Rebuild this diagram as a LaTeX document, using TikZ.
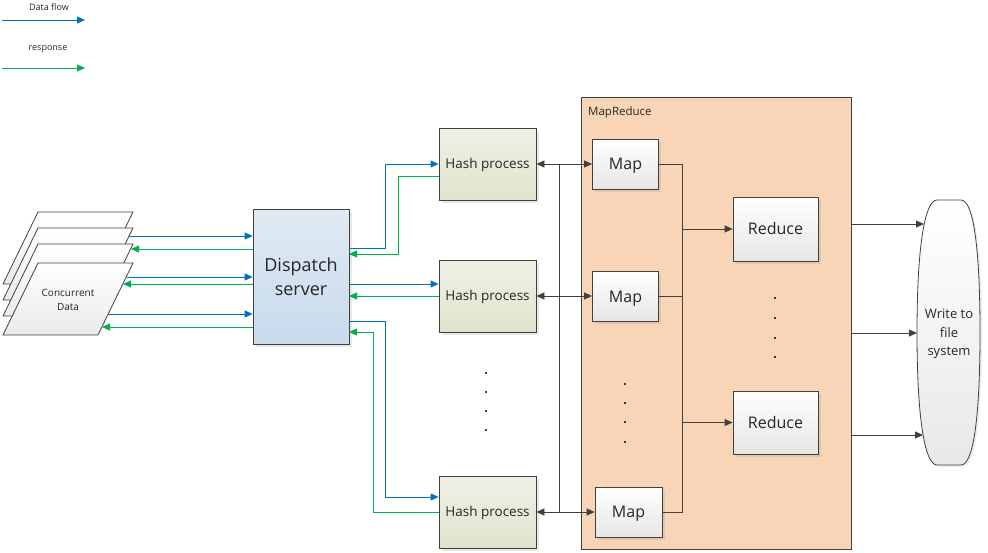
\documentclass[tikz,border=0pt]{standalone}
\usepackage{fontspec}
\setmainfont{Open Sans}
\usetikzlibrary{arrows.meta,shadows}
\definecolor{blueflow}{HTML}{0070C0}
\definecolor{greenresp}{HTML}{00B050}
\definecolor{edgec}{HTML}{404040}
\definecolor{txt}{HTML}{262626}
\definecolor{peach}{HTML}{F8D5B6}
\begin{document}
\begin{tikzpicture}[x=1pt,y=-1pt,
  tip/.style={-{Triangle[length=8pt,width=7pt]}},
  dtip/.style={{Triangle[length=8pt,width=7pt]}-{Triangle[length=8pt,width=7pt]}},
  bluearr/.style={tip, draw=blueflow, line width=0.9pt},
  greenarr/.style={tip, draw=greenresp, line width=0.9pt},
  grayarr/.style={tip, draw=edgec, line width=0.8pt},
  graydarr/.style={dtip, draw=edgec, line width=0.8pt},
  grayline/.style={draw=edgec, line width=0.8pt},
  boxbase/.style={draw=edgec, line width=0.8pt, inner sep=0pt, align=center, text=txt,
    drop shadow={opacity=0.18, shadow xshift=2.5pt, shadow yshift=-2.5pt}},
  dispbox/.style={boxbase, top color={rgb,255:red,224;green,234;blue,244}, bottom color={rgb,255:red,200;green,218;blue,236},
    font=\fontsize{18}{24}\selectfont},
  hashbox/.style={boxbase, top color={rgb,255:red,239;green,241;blue,230}, bottom color={rgb,255:red,222;green,228;blue,204},
    font=\fontsize{13.5}{16}\selectfont, text height=9.6pt, text depth=0pt},
  wbox/.style={boxbase, top color=white, bottom color={rgb,255:red,230;green,230;blue,230},
    font=\fontsize{16}{19}\selectfont, text height=11.4pt, text depth=0pt},
  sheet/.style={draw=edgec, line width=0.8pt, top color=white, bottom color={rgb,255:red,234;green,234;blue,234}},
  dot/.style={fill=black, circle, inner sep=0pt, minimum size=2.2pt},
  lbl/.style={font=\fontsize{9}{11}\selectfont, text=txt, inner sep=0pt}
]
\useasboundingbox (0,0) rectangle (988,552);

% legend
\node[lbl] (lgd1) at (49,7.5) {Data flow};
\coordinate (la1) at (2,20); \coordinate (lb1) at (85,20);
\draw[bluearr] (la1) -- (lb1);
\node[lbl] (lgd2) at (48,49.5) {response};
\coordinate (la2) at (2,68); \coordinate (lb2) at (85,68);
\draw[greenarr] (la2) -- (lb2);

% concurrent data sheets
\foreach \t in {212,228,244,263}{
  \path[sheet] (38,\t) -- (133,\t) -- (98,\t+72) -- (3,\t+72) -- cycle;
}
\node[align=center, text=txt, font=\fontsize{10}{14}\selectfont] (cd) at (68,300) {Concurrent\\Data};

% sheet edge coordinates
\coordinate (s1) at (129,236);
\coordinate (s2) at (131,249);
\coordinate (s3) at (127,277);
\coordinate (s4) at (123,284);
\coordinate (s5) at (108,314);
\coordinate (s6) at (102,327);

% MapReduce container
\node[draw=edgec, line width=0.8pt, fill=peach, minimum width=270pt, minimum height=452pt, inner sep=0pt] (mr) at (716,323) {};
\node[anchor=west, text=txt, font=\fontsize{11.5}{13}\selectfont, inner sep=0pt] (mrl) at (588,112.5) {MapReduce};

% dispatch
\node[dispbox, minimum width=96pt, minimum height=135pt] (ds) at (301,276.5) {Dispatch\\server};

% hash processes
\node[hashbox, minimum width=97pt, minimum height=72pt] (h1) at (487.5,164) {Hash process};
\node[hashbox, minimum width=97pt, minimum height=72pt] (h2) at (487.5,296) {Hash process};
\node[hashbox, minimum width=97pt, minimum height=72pt] (h3) at (487.5,512) {Hash process};

% maps and reduces
\node[wbox, minimum width=66pt, minimum height=50pt] (m1) at (625.5,164) {Map};
\node[wbox, minimum width=66pt, minimum height=50pt] (m2) at (625.5,296.5) {Map};
\node[wbox, minimum width=67pt, minimum height=50pt] (m3) at (628.5,512) {Map};
\node[wbox, minimum width=85pt, minimum height=64pt] (r1) at (775.5,229) {Reduce};
\node[wbox, minimum width=85pt, minimum height=63pt] (r2) at (775.5,422.5) {Reduce};

% write to file system
\path[draw=edgec, line width=0.8pt, top color=white, bottom color={rgb,255:red,232;green,232;blue,232},
  drop shadow={opacity=0.15, shadow xshift=2pt, shadow yshift=-2pt}]
  (937,200) -- (961,200) .. controls (973,200) and (980,245) .. (980,332.5)
  .. controls (980,420) and (973,465) .. (961,465) -- (937,465)
  .. controls (925,465) and (917,420) .. (917,332.5)
  .. controls (917,245) and (925,200) .. (937,200) -- cycle;
\node[align=center, text=txt, font=\fontsize{13}{18.5}\selectfont] (fs) at (949,334) {Write to\\file\\system};

% data <-> dispatch
\draw[bluearr] (s1) -- (s1 -| ds.west);
\draw[greenarr] (s2 -| ds.west) -- (s2);
\draw[bluearr] (s3) -- (s3 -| ds.west);
\draw[greenarr] (s4 -| ds.west) -- (s4);
\draw[bluearr] (s5) -- (s5 -| ds.west);
\draw[greenarr] (s6 -| ds.west) -- (s6);

% dispatch <-> hash
\coordinate (d1) at (349,248);
\coordinate (d2) at (349,254);
\coordinate (d3) at (349,284);
\coordinate (d4) at (349,296);
\coordinate (d5) at (349,321);
\coordinate (d6) at (349,332);
\draw[bluearr] (d1) -- (385,248) -- (385,164) -- (h1.west);
\draw[greenarr] (h1.west |- 0,176) -- (398,176) -- (398,254) -- (d2);
\draw[bluearr] (d3) -- (h2.west |- d3);
\draw[greenarr] (h2.west) -- (d4);
\draw[bluearr] (d5) -- (385,321) -- (385,497) -- (h3.west |- 0,497);
\draw[greenarr] (h3.west) -- (373,512) -- (373,332) -- (d6);

% hash <-> map
\draw[graydarr] (h1.east) -- (m1.west);
\draw[graydarr] (h2.east) -- (m2.west |- h2.east);
\draw[graydarr] (h3.east) -- (m3.west);
\coordinate (vt) at (559,164);
\coordinate (vb) at (559,512);
\draw[grayline] (vt) -- (vb);

% map -> reduce
\coordinate (jt) at (682,164);
\coordinate (jb) at (682,512);
\draw[grayline] (m1.east) -- (jt) -- (jb) -- (m3.east);
\draw[grayline] (m2.east |- 0,296) -- (682,296);
\draw[grayarr] (682,229) -- (r1.west);
\draw[grayarr] (682,422.5) -- (r2.west);

% mapreduce -> file system
\coordinate (o1) at (851,224); \coordinate (f1) at (924,224);
\coordinate (o2) at (851,333); \coordinate (f2) at (917,333);
\coordinate (o3) at (851,435); \coordinate (f3) at (923,435);
\draw[grayarr] (o1) -- (f1);
\draw[grayarr] (o2) -- (f2);
\draw[grayarr] (o3) -- (f3);

% dots
\foreach \y in {373,392,411,430} \node[dot] at (486,\y) {};
\foreach \y in {384,403,422,442} \node[dot] at (625,\y) {};
\foreach \y in {298,318,338,357} \node[dot] at (775,\y) {};
\end{tikzpicture}
\end{document}
